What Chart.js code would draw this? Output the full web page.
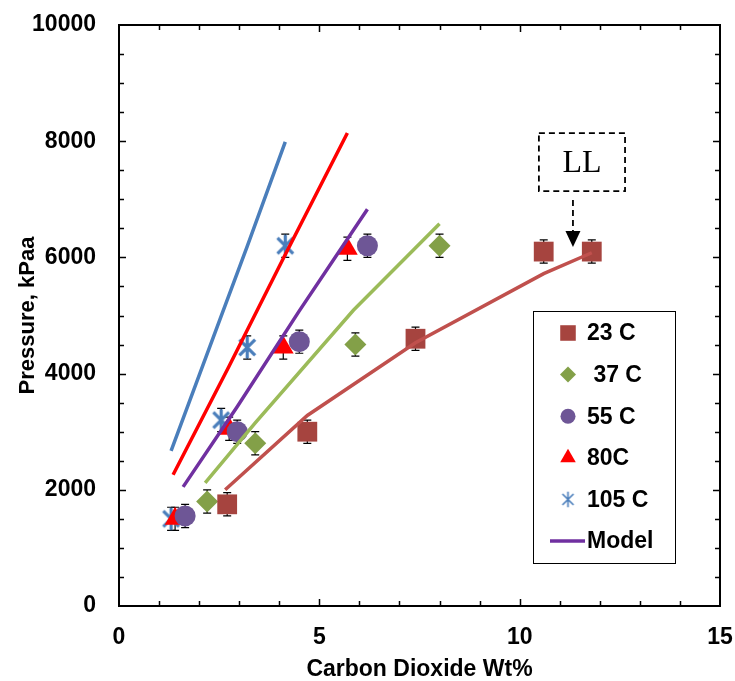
<!DOCTYPE html>
<html>
<head>
<meta charset="utf-8">
<script src="https://cdn.jsdelivr.net/npm/chart.js@4.4.0/dist/chart.umd.min.js"></script>
<style>
  body { margin: 0; background: #fff; }
  #chart { display: block; }
</style>
</head>
<body>
<canvas id="chart" width="735" height="681"></canvas>
<script>
// Measured points (CO2 wt% vs pressure kPaa), error bars are +/- 200 kPa
const co2At23 = [2.7, 4.7, 7.4, 10.6, 11.8];
const pressAt23 = [1750, 3000, 4600, 6100, 6100];
const co2At37 = [2.2, 3.4, 5.9, 8.0];
const pressAt37 = [1800, 2800, 4500, 6200];
const co2At55 = [1.65, 2.95, 4.5, 6.2];
const pressAt55 = [1550, 3000, 4550, 6200];
const co2At80 = [1.4, 2.75, 4.1, 5.7];
const pressAt80 = [1500, 3050, 4450, 6150];
const co2At105 = [1.3, 2.55, 3.2, 4.15];
const pressAt105 = [1500, 3200, 4450, 6200];
const errorKpa = 200;

// Model curves
const modelCo2At23 = [2.65, 4.7, 7.4, 10.6, 11.8];
const modelPressAt23 = [2000, 3280, 4530, 5720, 6080];
const modelCo2At37 = [2.15, 3.4, 5.85, 8.0];
const modelPressAt37 = [2120, 3150, 5090, 6580];
const modelCo2At55 = [1.6, 2.95, 4.5, 6.2];
const modelPressAt55 = [2050, 3430, 5080, 6830];
const modelCo2At80 = [1.35, 2.75, 4.1, 5.7];
const modelPressAt80 = [2260, 4130, 5980, 8140];
const modelCo2At105 = [1.3, 2.55, 3.2, 4.15];
const modelPressAt105 = [2670, 4990, 6190, 7990];

// "LL" callout, in data units
const llBox = { x1: 10.48, x2: 12.63, y1: 8140, y2: 7140 };
const llArrow = { x: 11.33, yFrom: 6990, yTo: 6180 };

const FONT = "'Liberation Sans', Arial, sans-serif";

const toPoints = (xs, ys) => xs.map((x, i) => ({ x: x, y: ys[i] }));

// Excel style star: an X with a vertical stroke through it
function makeStar(size, color, lw) {
  const c = document.createElement("canvas");
  c.width = size;
  c.height = size;
  const g = c.getContext("2d");
  const m = size / 2;
  const r = size / 2 - lw / 2;
  g.strokeStyle = color;
  g.lineWidth = lw;
  g.beginPath();
  g.moveTo(m - r * 0.72, m - r * 0.72);
  g.lineTo(m + r * 0.72, m + r * 0.72);
  g.moveTo(m + r * 0.72, m - r * 0.72);
  g.lineTo(m - r * 0.72, m + r * 0.72);
  g.moveTo(m, m - r);
  g.lineTo(m, m + r);
  g.stroke();
  return c;
}

const starBig = makeStar(25, "#4A7EBB", 3.2);
const starSmall = makeStar(17, "#4A7EBB", 1.6);

function markerSet(label, xs, ys, color, style, radius, legendStyle, legendRadius) {
  return {
    label: label,
    data: toPoints(xs, ys),
    showLine: false,
    pointStyle: style,
    pointRadius: radius,
    pointHoverRadius: radius,
    backgroundColor: color,
    borderColor: color,
    pointBorderWidth: 0,
    errorBars: true,
    legendStyle: legendStyle || style,
    legendRadius: legendRadius,
    order: 1,
  };
}

function modelSet(label, xs, ys, color) {
  return {
    label: label,
    data: toPoints(xs, ys),
    showLine: true,
    borderColor: color,
    borderWidth: 3.5,
    pointRadius: 0,
    fill: false,
    isModel: true,
    order: 0,
  };
}

const datasets = [
  markerSet("23 C", co2At23, pressAt23, "#A6443F", "rect", 14, "rect", 11),
  markerSet(" 37 C", co2At37, pressAt37, "#83A048", "rectRot", 11, "rectRot", 8),
  markerSet("55 C", co2At55, pressAt55, "#6E5696", "circle", 10.5, "circle", 7.5),
  markerSet("80C", co2At80, pressAt80, "#FF0000", "triangle", 12, "triangle", 9),
  markerSet("105 C", co2At105, pressAt105, "#4A7EBB", starBig, 11, starSmall, 7),
  modelSet("", modelCo2At23, modelPressAt23, "#C0504D"),
  modelSet("", modelCo2At37, modelPressAt37, "#9BBB59"),
  modelSet("Model", modelCo2At55, modelPressAt55, "#7030A0"),
  modelSet("", modelCo2At80, modelPressAt80, "#FF0000"),
  modelSet("", modelCo2At105, modelPressAt105, "#4A7EBB"),
];

// frame around the plot with inward ticks on all four sides
const framePlugin = {
  id: "frame",
  beforeDatasetsDraw(chart) {
    const { ctx, chartArea: a, scales } = chart;
    ctx.save();
    ctx.strokeStyle = "#000";
    ctx.lineWidth = 1.5;
    ctx.beginPath();
    for (let v = 1; v < 15; v++) {
      const px = Math.round(scales.x.getPixelForValue(v)) + 0.5;
      const len = v % 5 === 0 ? 7 : 5;
      ctx.moveTo(px, a.bottom);
      ctx.lineTo(px, a.bottom - len);
      ctx.moveTo(px, a.top);
      ctx.lineTo(px, a.top + len);
    }
    for (let v = 500; v < 10000; v += 500) {
      const py = Math.round(scales.y.getPixelForValue(v)) + 0.5;
      const len = v % 2000 === 0 ? 7 : 5;
      ctx.moveTo(a.left, py);
      ctx.lineTo(a.left + len, py);
      ctx.moveTo(a.right, py);
      ctx.lineTo(a.right - len, py);
    }
    ctx.stroke();
    ctx.lineWidth = 2;
    ctx.strokeRect(a.left, a.top, a.right - a.left, a.bottom - a.top);
    ctx.restore();
  },
};

// vertical error bars with caps, drawn under the markers
const errorBarPlugin = {
  id: "errorBars",
  beforeDatasetsDraw(chart) {
    const { ctx, scales } = chart;
    ctx.save();
    ctx.strokeStyle = "#000";
    ctx.lineWidth = 1.2;
    chart.data.datasets.forEach((ds) => {
      if (!ds.errorBars) return;
      ds.data.forEach((pt) => {
        const px = scales.x.getPixelForValue(pt.x);
        const top = scales.y.getPixelForValue(pt.y + errorKpa);
        const bot = scales.y.getPixelForValue(pt.y - errorKpa);
        ctx.beginPath();
        ctx.moveTo(px, top);
        ctx.lineTo(px, bot);
        ctx.moveTo(px - 4, top);
        ctx.lineTo(px + 4, top);
        ctx.moveTo(px - 4, bot);
        ctx.lineTo(px + 4, bot);
        ctx.stroke();
      });
    });
    ctx.restore();
  },
};

// boxed legend inside the plot + the LL callout
const overlayPlugin = {
  id: "overlay",
  afterDraw(chart) {
    const { ctx, scales } = chart;
    ctx.save();

    // legend box
    const lx = 533, ly = 311, lw = 142, lh = 252;
    ctx.fillStyle = "#fff";
    ctx.fillRect(lx, ly, lw, lh);
    ctx.strokeStyle = "#000";
    ctx.lineWidth = 1;
    ctx.strokeRect(lx + 0.5, ly + 0.5, lw, lh);

    ctx.font = "bold 23px " + FONT;
    ctx.textBaseline = "middle";
    ctx.textAlign = "left";
    let row = 0;
    chart.data.datasets.forEach((ds) => {
      if (!ds.label) return;
      const cy = ly + 22 + row * 41.6;
      if (ds.isModel) {
        ctx.strokeStyle = ds.borderColor;
        ctx.lineWidth = 3.5;
        ctx.beginPath();
        ctx.moveTo(550, cy);
        ctx.lineTo(585, cy);
        ctx.stroke();
      } else {
        ctx.fillStyle = ds.backgroundColor;
        ctx.strokeStyle = ds.backgroundColor;
        Chart.helpers.drawPoint(ctx, {
          pointStyle: ds.legendStyle,
          radius: ds.legendRadius,
          rotation: 0,
          borderWidth: 0,
        }, 568, cy);
      }
      ctx.fillStyle = "#000";
      ctx.fillText(ds.label, 587, cy + 1);
      row++;
    });

    // LL dashed box
    const bx1 = scales.x.getPixelForValue(llBox.x1);
    const bx2 = scales.x.getPixelForValue(llBox.x2);
    const by1 = scales.y.getPixelForValue(llBox.y1);
    const by2 = scales.y.getPixelForValue(llBox.y2);
    ctx.strokeStyle = "#000";
    ctx.lineWidth = 1.8;
    ctx.setLineDash([6, 4]);
    ctx.strokeRect(bx1, by1, bx2 - bx1, by2 - by1);
    ctx.font = "32px 'Liberation Serif', 'Times New Roman', serif";
    ctx.textAlign = "center";
    ctx.fillStyle = "#000";
    ctx.fillText("LL", (bx1 + bx2) / 2, (by1 + by2) / 2 + 1);

    // dashed arrow pointing at the last 23 C point
    const ax = scales.x.getPixelForValue(llArrow.x);
    const ay1 = scales.y.getPixelForValue(llArrow.yFrom);
    const ay2 = scales.y.getPixelForValue(llArrow.yTo);
    ctx.beginPath();
    ctx.moveTo(ax, ay1);
    ctx.lineTo(ax, ay2 - 14);
    ctx.stroke();
    ctx.setLineDash([]);
    ctx.beginPath();
    ctx.moveTo(ax - 7.5, ay2 - 16);
    ctx.lineTo(ax + 7.5, ay2 - 16);
    ctx.lineTo(ax, ay2);
    ctx.closePath();
    ctx.fill();

    ctx.restore();
  },
};

const tickFont = { family: FONT, size: 23, weight: "bold" };
const plainNumber = (v) => String(v);

new Chart(document.getElementById("chart"), {
  type: "scatter",
  data: { datasets: datasets },
  options: {
    responsive: false,
    animation: false,
    layout: { padding: { top: 25, right: 15, left: 0, bottom: 0 } },
    plugins: {
      legend: { display: false },
      tooltip: { enabled: false },
    },
    scales: {
      x: {
        type: "linear",
        min: 0,
        max: 15,
        ticks: { stepSize: 5, padding: 18, color: "#000", font: tickFont, callback: plainNumber },
        grid: { display: false, drawTicks: false },
        border: { display: false },
        title: {
          display: true,
          text: "Carbon Dioxide Wt%",
          color: "#000",
          font: { family: FONT, size: 23, weight: "bold", lineHeight: 1 },
          padding: 0,
        },
        afterFit: (scale) => {
          scale.height = 75;
          scale.paddingLeft = 0;
          scale.paddingRight = 0;
        },
      },
      y: {
        type: "linear",
        min: 0,
        max: 10000,
        ticks: { stepSize: 2000, padding: 23, color: "#000", font: tickFont, callback: plainNumber },
        grid: { display: false, drawTicks: false },
        border: { display: false },
        title: {
          display: true,
          text: "Pressure, kPaa",
          color: "#000",
          font: { family: FONT, size: 22, weight: "bold", lineHeight: 1 },
          padding: { top: 17, bottom: 0 },
        },
        afterFit: (scale) => {
          scale.width = 119;
          scale.paddingTop = 0;
          scale.paddingBottom = 0;
        },
      },
    },
  },
  plugins: [framePlugin, errorBarPlugin, overlayPlugin],
});
</script>
</body>
</html>
